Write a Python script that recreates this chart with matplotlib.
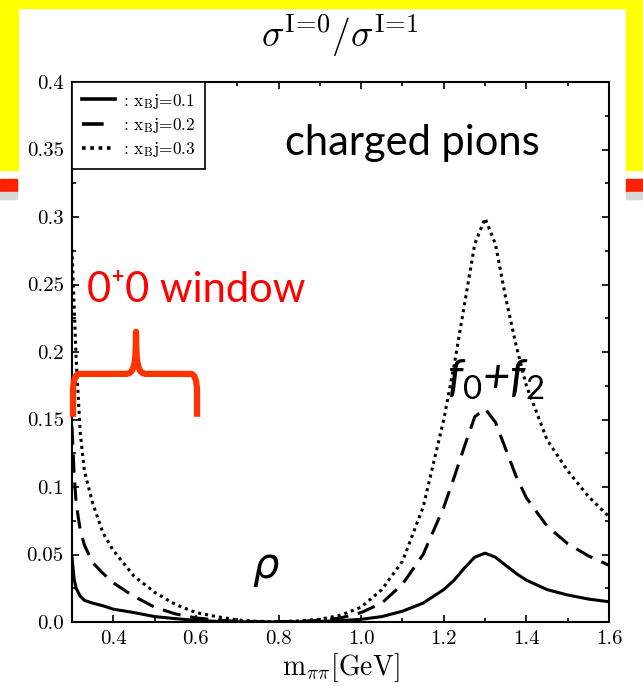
import matplotlib
matplotlib.use('Agg')
import matplotlib.pyplot as plt
from matplotlib.patches import Rectangle, PathPatch
from matplotlib.path import Path
from matplotlib.ticker import MultipleLocator

plt.rcParams['mathtext.fontset'] = 'cm'
plt.rcParams['mathtext.rm'] = 'Lato'
plt.rcParams['mathtext.it'] = 'Lato:italic'

# m_pipi [GeV] and ratio sigma(I=0)/sigma(I=1)
m = [0.30, 0.305, 0.31, 0.32, 0.33, 0.35, 0.375, 0.40, 0.45, 0.50, 0.55, 0.60,
     0.65, 0.70, 0.75, 0.80, 0.85, 0.90, 0.95, 1.00, 1.05, 1.10, 1.15, 1.20,
     1.225, 1.25, 1.275, 1.30, 1.325, 1.35, 1.375, 1.40, 1.45, 1.50, 1.55, 1.60]
r_x01 = [0.048, 0.032, 0.025, 0.019, 0.016, 0.014, 0.012, 0.0095, 0.007, 0.004,
         0.0025, 0.0012, 0.0005, 0.0002, 0.0001, 0.0001, 0.0002, 0.0005, 0.001,
         0.002, 0.004, 0.008, 0.014, 0.024, 0.031, 0.040, 0.048, 0.051, 0.048,
         0.042, 0.036, 0.031, 0.024, 0.020, 0.017, 0.015]
r_x02 = [0.145, 0.110, 0.088, 0.068, 0.057, 0.044, 0.036, 0.029, 0.019, 0.011,
         0.006, 0.003, 0.0015, 0.0005, 0.0002, 0.0002, 0.0005, 0.0012, 0.003,
         0.007, 0.014, 0.028, 0.050, 0.085, 0.107, 0.130, 0.152, 0.158, 0.148,
         0.128, 0.108, 0.092, 0.071, 0.058, 0.049, 0.042]
r_x03 = [0.276, 0.235, 0.195, 0.140, 0.112, 0.088, 0.066, 0.053, 0.034, 0.022,
         0.013, 0.007, 0.004, 0.0015, 0.0005, 0.0003, 0.0008, 0.002, 0.005,
         0.011, 0.024, 0.045, 0.085, 0.150, 0.190, 0.235, 0.280, 0.299, 0.280,
         0.240, 0.205, 0.175, 0.135, 0.112, 0.093, 0.078]
labels = [': x$_{\\rm B}$j=0.1', ': x$_{\\rm B}$j=0.2', ': x$_{\\rm B}$j=0.3']
yticks = [0.0, 0.05, 0.1, 0.15, 0.2, 0.25, 0.3, 0.35, 0.4]
ytick_labels = ['0.0', '0.05', '0.1', '0.15', '0.2', '0.25', '0.3', '0.35', '0.4']
xticks = [0.4, 0.6, 0.8, 1.0, 1.2, 1.4, 1.6]
xtick_labels = ['0.4', '0.6', '0.8', '1.0', '1.2', '1.4', '1.6']

fig = plt.figure(figsize=(6.43, 6.87), dpi=100)
W, H = 643.0, 687.0

# slide background: yellow frame and red bar peeking out from behind the white box
def box(x0, y0, x1, y1, c):
    fig.patches.append(Rectangle((x0 / W, 1 - y1 / H), (x1 - x0) / W, (y1 - y0) / H,
                                 transform=fig.transFigure, color=c, zorder=-5))
box(0, 0, 643, 8, '#ffff00')
box(0, 0, 18, 170, '#ffff00')
box(626, 0, 643, 170, '#ffff00')
box(0, 179, 17, 192, '#ff2200')
box(626, 179, 643, 192, '#ff2200')
box(0, 192, 17, 199, '#d8d8d8')
box(626, 192, 643, 199, '#d8d8d8')

ax = fig.add_axes([72 / W, 1 - 622 / H, (609 - 72) / W, (622 - 82) / H])

ax.plot(m, r_x01, color='black', lw=2.2, ls='-', label=labels[0])
ax.plot(m, r_x02, color='black', lw=2.2, ls=(0, (6, 3.2)), label=labels[1])
ax.plot(m, r_x03, color='black', lw=2.2, ls=(0, (1, 1.3)), label=labels[2])

ax.set_xlim(0.3, 1.6)
ax.set_ylim(0, 0.4)
ax.set_xticks(xticks)
ax.set_xticklabels(xtick_labels, fontfamily='cmr10', fontsize=15)
ax.set_yticks(yticks)
ax.set_yticklabels(ytick_labels, fontfamily='cmr10', fontsize=15)
ax.xaxis.set_minor_locator(MultipleLocator(0.1))
ax.yaxis.set_minor_locator(MultipleLocator(0.025))
ax.tick_params(which='both', direction='in', top=True, right=True, width=1.2)
ax.tick_params(which='major', length=5, pad=6)
ax.tick_params(which='minor', length=3)
for s in ax.spines.values():
    s.set_linewidth(1.5)

ax.set_xlabel(r'$\rm m_{\pi\pi}[GeV]$', fontsize=20, labelpad=2)
fig.text(340 / W, 1 - 36 / H, r'$\sigma^{\rm I\!=\!0}/\sigma^{\rm I\!=\!1}$',
         fontsize=27, ha='center', va='center')

leg = ax.legend(loc='upper left', borderaxespad=0, fancybox=False, edgecolor='black',
                framealpha=1, handlelength=1.9, handletextpad=0.5, labelspacing=0.3,
                prop={'family': 'cmr10', 'size': 12.5}, borderpad=0.55)
leg.get_frame().set_linewidth(1.2)
for ln in leg.get_lines():
    ln.set_linewidth(2.6)

ax.text(1.123, 0.355, 'charged pions', fontsize=30, family='Lato', ha='center', va='center')
ax.text(0.6, 0.246, '0\u207a0 window', fontsize=30, family=['Lato', 'DejaVu Sans'],
        color='#ff0000', ha='center', va='center')
ax.text(1.208, 0.170, r'$\mathit{f_0}$+$\mathit{f_2}$', fontsize=34, style='italic',
        family='Lato', math_fontfamily='custom', ha='left', va='baseline')
ax.text(0.77, 0.04, r'$\rho$', fontsize=30, math_fontfamily='dejavusans',
        ha='center', va='center')

# red curly bracket marking the window
verts = [(0.3024, 0.152), (0.3024, 0.170), (0.3024, 0.1838), (0.318, 0.1838),
         (0.43, 0.1838), (0.45, 0.1838), (0.455, 0.19), (0.455, 0.215),
         (0.455, 0.19), (0.46, 0.1838), (0.48, 0.1838), (0.587, 0.1838),
         (0.6027, 0.1838), (0.6027, 0.170), (0.6027, 0.152)]
codes = [Path.MOVETO, Path.LINETO, Path.CURVE3, Path.CURVE3, Path.LINETO,
         Path.CURVE4, Path.CURVE4, Path.CURVE4, Path.CURVE4, Path.CURVE4, Path.CURVE4,
         Path.LINETO, Path.CURVE3, Path.CURVE3, Path.LINETO]
ax.add_patch(PathPatch(Path(verts, codes), fill=False, edgecolor='#ff3300', lw=4.5,
                       capstyle='butt', joinstyle='round', clip_on=False, zorder=5))

fig.savefig('out.png', dpi=100)
